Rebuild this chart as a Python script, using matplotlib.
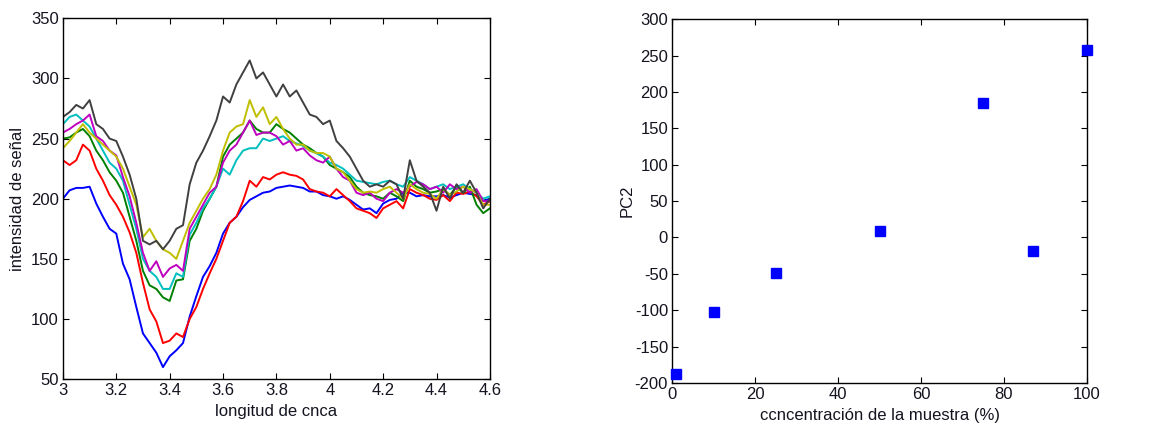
import numpy as np
import matplotlib
matplotlib.use("Agg")
import matplotlib.pyplot as plt

plt.rcParams["font.family"] = ["Liberation Sans", "DejaVu Sans"]
plt.rcParams["axes.unicode_minus"] = False

# left panel: spectra (wavelength vs signal intensity)
wavelength = np.round(np.arange(3.0, 4.6001, 0.025), 3)

blue = [200, 207, 209, 209, 210, 196, 185, 175, 171, 146, 133, 110, 88, 80, 72, 60, 69, 74, 80, 102,
        119, 135, 144, 155, 171, 180, 185, 193, 199, 202, 205, 206, 209, 210, 211, 210, 209, 206, 206, 203,
        202, 200, 202, 199, 195, 191, 192, 188, 196, 199, 200, 205, 205, 202, 203, 202, 202, 203, 201, 203,
        205, 204, 203, 198, 200]
red = [232, 228, 232, 245, 240, 225, 215, 203, 195, 185, 172, 155, 130, 108, 98, 80, 82, 88, 85, 100,
       110, 125, 138, 150, 165, 180, 185, 198, 215, 210, 218, 216, 220, 222, 220, 219, 216, 208, 206, 205,
       202, 208, 203, 198, 192, 190, 188, 184, 192, 195, 198, 192, 208, 205, 203, 200, 199, 203, 198, 205,
       204, 206, 202, 195, 198]
green = [250, 251, 255, 258, 252, 240, 232, 222, 215, 205, 185, 165, 140, 128, 125, 118, 115, 132, 133, 165,
         175, 190, 200, 210, 235, 245, 250, 255, 265, 258, 255, 255, 262, 258, 255, 250, 245, 242, 238, 235,
         228, 225, 222, 218, 210, 205, 203, 202, 200, 205, 202, 198, 215, 210, 208, 205, 206, 208, 203, 210,
         205, 210, 195, 188, 192]
cyan = [262, 268, 270, 265, 260, 250, 240, 230, 225, 215, 195, 175, 150, 140, 135, 125, 125, 138, 135, 170,
        180, 192, 200, 210, 225, 220, 232, 240, 242, 242, 250, 248, 250, 252, 248, 246, 244, 240, 238, 235,
        230, 228, 225, 220, 215, 214, 213, 212, 214, 215, 212, 210, 218, 215, 212, 208, 210, 212, 208, 210,
        212, 208, 205, 200, 202]
magenta = [255, 258, 262, 265, 270, 252, 248, 240, 236, 218, 202, 180, 155, 140, 148, 135, 142, 145, 140, 175,
           185, 195, 205, 210, 230, 240, 245, 255, 265, 253, 255, 255, 252, 245, 248, 240, 242, 236, 232, 230,
           235, 225, 218, 215, 205, 203, 205, 200, 198, 205, 208, 205, 210, 214, 212, 208, 210, 205, 212, 208,
           210, 205, 208, 198, 198]
yellow = [242, 248, 255, 262, 255, 250, 245, 240, 235, 225, 210, 195, 168, 175, 165, 158, 155, 150, 165, 180,
          190, 200, 208, 220, 240, 255, 260, 262, 282, 268, 276, 262, 268, 258, 250, 245, 245, 240, 238, 238,
          235, 225, 222, 215, 208, 205, 206, 205, 208, 210, 205, 200, 212, 208, 205, 204, 200, 208, 203, 206,
          210, 208, 205, 195, 195]
gray = [268, 272, 278, 275, 282, 262, 258, 250, 248, 235, 220, 200, 165, 162, 165, 158, 165, 175, 178, 212,
        230, 240, 252, 265, 285, 280, 295, 305, 315, 300, 305, 295, 285, 295, 285, 290, 280, 270, 268, 262,
        265, 248, 242, 235, 225, 215, 210, 212, 210, 215, 212, 200, 232, 215, 210, 205, 190, 210, 200, 212,
        205, 215, 205, 192, 200]

series = [blue, red, green, cyan, magenta, yellow, gray]
colors = ["#0000ff", "#ff0000", "#008000", "#00bfbf", "#bf00bf", "#bfbf00", "#404040"]

# right panel: PC2 scores vs concentration
concentration = [1, 10, 25, 50, 75, 87, 100]
pc2 = [-187, -103, -49, 9, 185, -19, 258]

txt = "#141420"

fig = plt.figure(figsize=(11.65, 4.26), dpi=100)
ax1 = fig.add_axes([0.054, 0.110, 0.3665, 0.847])
ax2 = fig.add_axes([0.577, 0.101, 0.356, 0.854])

for vals, c in zip(series, colors):
    ax1.plot(wavelength, vals, color=c, lw=1.4)
ax1.set_xlim(3, 4.6)
ax1.set_ylim(50, 350)
ax1.set_xticks(np.arange(3, 4.61, 0.2))
ax1.set_xticklabels(["3", "3.2", "3.4", "3.6", "3.8", "4", "4.2", "4.4", "4.6"])
ax1.set_yticks(np.arange(50, 351, 50))
ax1.set_xlabel("longitud de cnca", fontsize=12, color=txt, labelpad=4)
ax1.set_ylabel("intensidad de señal", fontsize=12, color=txt, labelpad=4)

ax2.plot(concentration, pc2, "s", color="#0000ff", ms=6.5, clip_on=False, zorder=3)
ax2.set_xlim(0, 100)
ax2.set_ylim(-200, 300)
ax2.set_xticks(np.arange(0, 101, 20))
ax2.set_yticks(np.arange(-200, 301, 50))
ax2.set_xlabel("ccncentración de la muestra (%)", fontsize=12, color=txt, labelpad=4)
ax2.set_ylabel("PC2", fontsize=12, color=txt, labelpad=0)

for ax in (ax1, ax2):
    ax.tick_params(direction="in", top=True, right=True, length=4, width=0.8,
                   labelsize=12, labelcolor=txt, pad=3)
    for sp in ax.spines.values():
        sp.set_linewidth(1.0)

fig.savefig("out.png", dpi=100)
